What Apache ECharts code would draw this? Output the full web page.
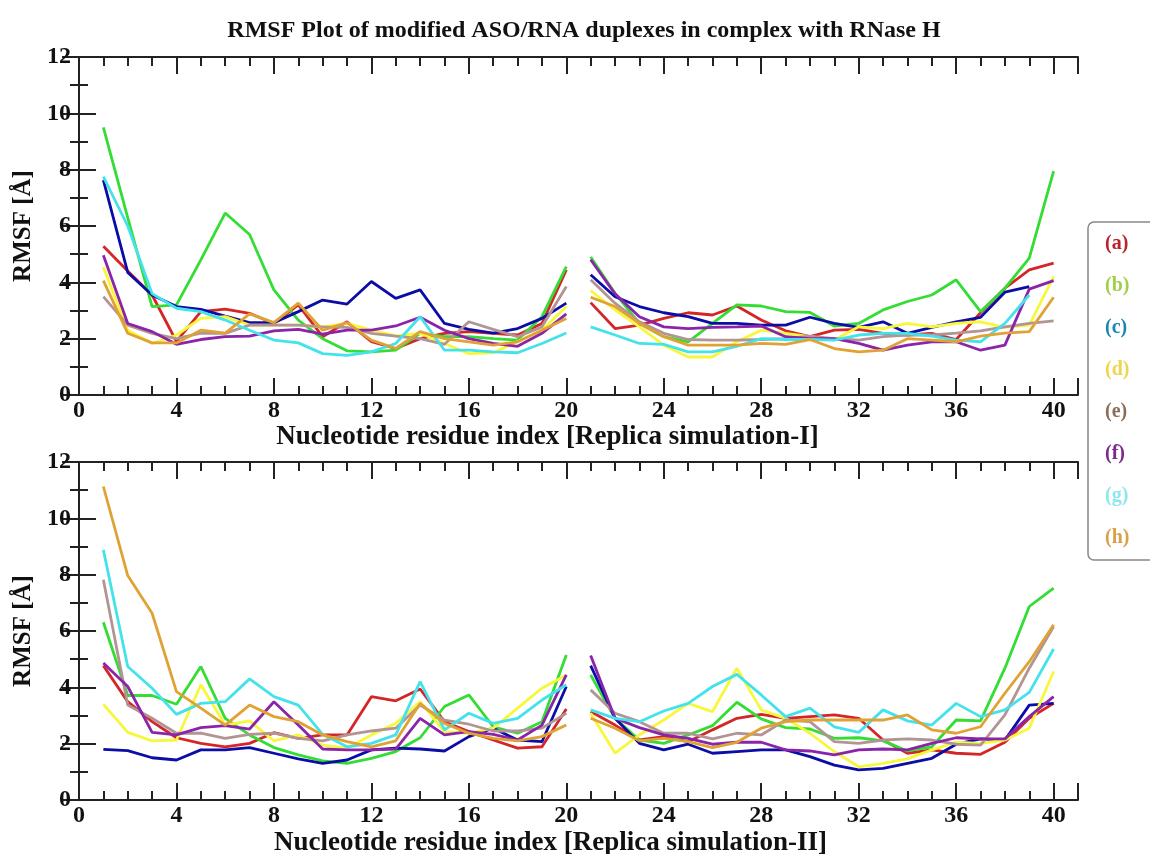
<!DOCTYPE html>
<html>
<head>
<meta charset="utf-8">
<script src="https://cdn.jsdelivr.net/npm/echarts@6/dist/echarts.min.js"></script>
<style>html,body{margin:0;padding:0;background:#fff}#c{width:1150px;height:854px}</style>
</head>
<body>
<div id="c"></div>
<script>
const names = ['(a)','(b)','(c)','(d)','(e)','(f)','(g)','(h)'];
const lineColors = ['#d42626','#33dd33','#0c0ca6','#f7f73c','#b39494','#8a25aa','#44e2ea','#e0a234'];
const legendColors = ['#b8242c','#a2cf4a','#1c88b2','#eed54e','#8c6b5a','#7b2a8c','#8ee6ee','#d8a04a'];
const xTicks = [0,4,8,12,16,20,24,28,32,36,40];
const yTicks = [0,2,4,6,8,10,12];

// Replica simulation-I (residues 1..40)
const rep1_a = [5.28,4.4,3.55,1.9,2.96,3.05,2.9,2.54,3.2,2.07,2.6,1.89,1.65,2.0,2.19,2.25,2.19,2.13,2.54,4.44,
                3.28,2.36,2.48,2.72,2.92,2.84,3.16,2.66,2.28,2.07,2.3,2.33,2.19,2.13,2.19,1.97,2.92,3.79,4.44,4.68];
const rep1_b = [9.5,6.3,3.14,3.2,4.8,6.46,5.7,3.73,2.66,2.0,1.57,1.53,1.59,2.19,2.07,2.07,2.0,1.95,2.78,4.56,
                4.9,3.61,2.54,2.07,1.89,2.54,3.2,3.16,2.96,2.93,2.45,2.54,3.02,3.32,3.55,4.09,2.96,3.79,4.86,7.95];
const rep1_c = [7.63,4.35,3.55,3.14,3.04,2.8,2.57,2.57,2.96,3.37,3.23,4.03,3.43,3.73,2.54,2.33,2.2,2.36,2.72,3.26,
                4.27,3.49,3.14,2.92,2.78,2.54,2.54,2.48,2.48,2.76,2.54,2.4,2.6,2.19,2.4,2.6,2.76,3.65,3.85,null];
const rep1_d = [4.54,2.3,1.83,2.13,2.72,2.78,2.48,2.48,2.48,2.42,2.54,2.3,2.1,2.19,1.83,1.47,1.5,1.9,2.3,3.14,
                3.71,3.02,2.42,1.77,1.35,1.35,1.89,2.3,2.19,2.07,1.95,2.42,2.36,2.54,2.42,2.54,2.6,2.4,2.48,4.2];
const rep1_e = [3.49,2.48,2.19,2.0,2.2,2.19,2.48,2.48,2.48,2.42,2.4,2.19,2.09,2.0,1.8,2.6,2.33,2.07,2.42,3.85,
                4.09,3.26,2.6,2.19,1.97,1.95,1.95,1.97,2.0,2.09,2.0,1.95,2.07,2.13,2.13,2.2,2.28,2.42,2.54,2.63];
const rep1_f = [4.96,2.54,2.25,1.8,1.97,2.07,2.09,2.28,2.33,2.16,2.3,2.3,2.45,2.76,2.3,2.0,1.83,1.73,2.19,2.88,
                4.8,3.59,2.78,2.42,2.36,2.4,2.42,2.45,2.07,2.0,2.0,1.83,1.59,1.77,1.89,1.89,1.59,1.77,3.76,4.06];
const rep1_g = [7.75,6.0,3.6,3.08,2.96,2.66,2.3,1.95,1.85,1.47,1.41,1.53,1.83,2.78,1.59,1.59,1.53,1.5,1.83,2.2,
                2.42,2.13,1.83,1.8,1.53,1.53,1.73,2.0,1.97,1.97,1.95,2.13,2.19,2.19,2.09,1.95,1.89,2.54,3.55,null];
const rep1_h = [4.06,2.19,1.85,1.85,2.3,2.2,2.88,2.57,3.26,2.3,2.57,1.95,1.65,2.25,2.0,1.89,1.77,1.89,2.3,2.72,
                3.47,3.14,2.54,2.07,1.77,1.77,1.77,1.83,1.8,1.97,1.65,1.53,1.59,2.0,1.95,1.89,2.09,2.2,2.25,3.47];

// Replica simulation-II (residues 1..40)
const rep2_a = [4.77,3.49,2.78,2.21,2.01,1.89,2.01,2.39,2.19,2.31,2.31,3.67,3.52,3.94,2.78,2.43,2.13,1.84,1.89,3.23,
                3.14,2.66,2.13,2.25,2.07,2.49,2.9,3.04,2.9,2.96,3.02,2.9,2.13,1.66,1.78,1.66,1.62,2.05,2.9,3.43];
const rep2_b = [6.31,3.71,3.71,3.4,4.74,2.9,2.31,1.86,1.6,1.39,1.3,1.48,1.72,2.21,3.32,3.73,2.6,2.37,2.78,5.15,
                4.44,2.9,2.13,2.01,2.31,2.64,3.47,2.88,2.57,2.52,2.19,2.21,2.1,1.74,1.89,2.84,2.81,4.68,6.87,7.52];
const rep2_c = [1.8,1.75,1.5,1.42,1.78,1.78,1.86,1.66,1.46,1.3,1.42,1.78,1.84,1.81,1.74,2.25,2.55,2.13,2.07,4.03,
                4.77,2.9,2.01,1.78,1.98,1.66,1.72,1.78,1.78,1.54,1.24,1.07,1.12,1.3,1.48,1.98,2.17,2.13,3.37,3.43];
const rep2_d = [3.4,2.4,2.1,2.13,4.09,2.66,2.81,2.1,2.31,1.95,1.84,2.31,2.72,3.49,2.43,2.37,2.55,3.26,3.97,4.44,
                3.08,1.66,2.31,2.84,3.43,3.14,4.68,3.2,2.9,2.37,1.72,1.18,1.3,1.46,1.78,2.05,2.01,2.13,2.55,4.56];
const rep2_e = [7.82,3.37,2.9,2.37,2.37,2.19,2.33,2.37,2.19,2.1,2.31,2.45,2.55,3.37,2.84,2.69,2.45,2.45,2.55,3.08,
                3.91,3.08,2.78,2.37,2.37,2.17,2.37,2.31,2.84,2.78,2.07,2.01,2.13,2.17,2.13,1.98,1.95,3.02,4.68,6.16];
const rep2_f = [4.86,4.03,2.4,2.31,2.57,2.64,2.52,3.49,2.66,1.81,1.78,1.78,1.81,2.9,2.31,2.43,2.33,2.13,2.66,4.44,
                5.13,2.9,2.57,2.31,2.19,1.98,2.05,2.05,1.78,1.74,1.6,1.78,1.81,1.78,2.01,2.21,2.17,2.17,2.96,3.67];
const rep2_g = [8.88,4.74,3.97,3.04,3.43,3.49,4.3,3.67,3.37,2.33,1.89,2.01,2.31,4.2,2.49,3.08,2.72,2.9,3.55,4.09,
                3.2,2.9,2.78,3.16,3.43,4.03,4.46,3.73,2.96,3.26,2.6,2.4,3.2,2.81,2.66,3.43,2.96,3.2,3.82,5.36];
const rep2_h = [11.13,7.97,6.63,3.85,3.26,2.66,3.37,2.96,2.78,2.31,2.07,1.89,2.1,3.43,2.72,2.37,2.19,2.1,2.25,2.66,
                2.9,2.55,2.1,2.19,2.07,1.86,2.05,2.55,2.78,2.84,2.84,2.84,2.84,3.02,2.49,2.37,2.6,3.79,4.91,6.22];

const rep1 = [rep1_a,rep1_b,rep1_c,rep1_d,rep1_e,rep1_f,rep1_g,rep1_h];
const rep2 = [rep2_a,rep2_b,rep2_c,rep2_d,rep2_e,rep2_f,rep2_g,rep2_h];

function toPairs(arr){
  const out = [];
  arr.forEach((v,i)=>{
    if(i===20) out.push([20.5,'-']);   // strand break between residue 20 and 21
    out.push([i+1, v===null ? '-' : v]);
  });
  return out;
}

const FONT = '"Liberation Serif","Times New Roman",serif';
const axisLineStyle = {show:true, lineStyle:{color:'#222', width:2}};

function xMajor(gridIndex, pos, name, gap, shift){
  return {
    type:'value', gridIndex, position:pos, min:0, max:41, interval:4,
    axisLine: axisLineStyle,
    axisTick:{show:true, inside:true, length:17, lineStyle:{color:'#222', width:2}},
    splitLine:{show:false},
    axisLabel: pos==='bottom' ? {show:true, margin:4, color:'#111', fontFamily:FONT, fontWeight:'bold', fontSize:24,
      formatter:(v)=> (v>40 ? '' : String(v))} : {show:false},
    name: name || '', nameLocation:'middle', nameGap:gap || 30,
    nameTextStyle:{color:'#111', fontFamily:FONT, fontWeight:'bold', fontSize:27, padding:[0, shift || 0, 0, 0]}
  };
}
function xMinor(gridIndex, pos){
  return {
    type:'value', gridIndex, position:pos, min:0, max:41, interval:1,
    axisLine:{show:false},
    axisTick:{show:true, inside:true, length:9, lineStyle:{color:'#222', width:2}},
    splitLine:{show:false}, axisLabel:{show:false}
  };
}
function yAx(gridIndex, pos){
  return {
    type:'value', gridIndex, position:pos, min:0, max:12, interval:2,
    axisLine: axisLineStyle,
    axisTick:{show:true, inside:true, length:17, lineStyle:{color:'#222', width:2}},
    minorTick:{show:true, splitNumber:2, length:9, lineStyle:{color:'#222', width:2}},
    splitLine:{show:false},
    axisLabel: pos==='left' ? {show:true, margin:8, color:'#111', fontFamily:FONT, fontWeight:'bold', fontSize:24} : {show:false},
    name: pos==='left' ? 'RMSF [Å]' : '', nameLocation:'middle', nameGap:36, nameRotate:90,
    nameTextStyle:{color:'#111', fontFamily:FONT, fontWeight:'bold', fontSize:25}
  };
}

const xAxes = [
  xMajor(0,'bottom','Nucleotide residue index [Replica simulation-I]', 29, 62), xMinor(0,'bottom'),
  xMajor(0,'top'), xMinor(0,'top'),
  xMajor(1,'bottom','Nucleotide residue index [Replica simulation-II]', 30, 56), xMinor(1,'bottom'),
  xMajor(1,'top'), xMinor(1,'top')
];
const yAxes = [yAx(0,'left'), yAx(0,'right'), yAx(1,'left'), yAx(1,'right')];

const series = [];
[rep1, rep2].forEach((rep, g)=>{
  rep.forEach((arr, k)=>{
    series.push({
      name: names[k], type:'line', xAxisIndex: g*4, yAxisIndex: g*2,
      data: toPairs(arr), showSymbol:false, symbol:'none', connectNulls:false,
      lineStyle:{color: lineColors[k], width:2.8}, itemStyle:{color: lineColors[k]},
      emphasis:{disabled:true}, animation:false
    });
  });
});

const option = {
  backgroundColor:'#fff',
  animation:false,
  title:{
    text:'RMSF Plot of modified ASO/RNA duplexes in complex with RNase H',
    left:579, top:14, textAlign:'center',
    textStyle:{color:'#111', fontFamily:FONT, fontWeight:'bold', fontSize:24}
  },
  legend:{
    orient:'vertical', left:1088, top:222,
    data: names.map((n,k)=>({name:n, textStyle:{color:legendColors[k]}})),
    icon:'rect', itemWidth:0, itemHeight:20, itemGap:22,
    padding:[12,40,12,12],
    borderColor:'#888', borderWidth:1.5, borderRadius:6,
    textStyle:{fontFamily:FONT, fontWeight:'bold', fontSize:20},
    selectedMode:false
  },
  grid:[
    {left:79, top:57, width:999, height:338, containLabel:false, outerBoundsMode:'none'},
    {left:79, top:462, width:999, height:338, containLabel:false, outerBoundsMode:'none'}
  ],
  xAxis: xAxes,
  yAxis: yAxes,
  series
};

const chart = echarts.init(document.getElementById('c'), null, {renderer:'canvas'});
chart.setOption(option);
</script>
</body>
</html>
